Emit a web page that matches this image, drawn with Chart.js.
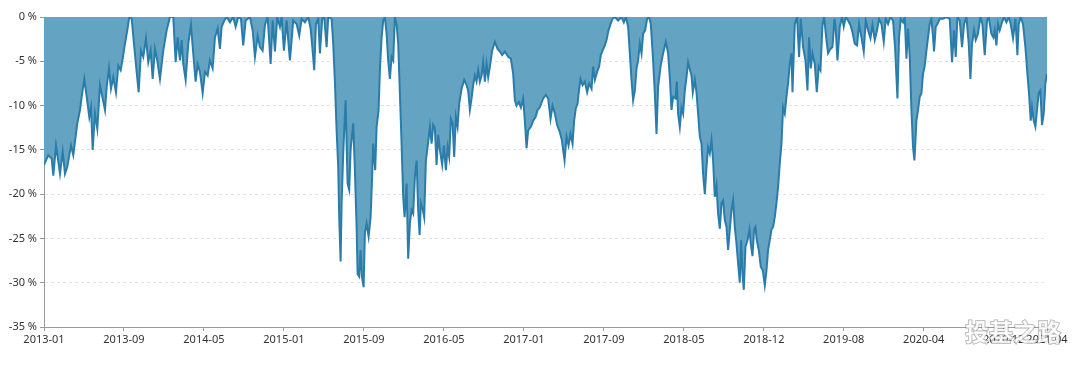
<!DOCTYPE html>
<html>
<head>
<meta charset="utf-8">
<script src="https://cdn.jsdelivr.net/npm/chart.js@4"></script>
<style>
  html, body { margin: 0; padding: 0; background: #fff; }
  #wrap { width: 1080px; height: 366px; }
</style>
</head>
<body>
<div id="wrap"><canvas id="ddChart" width="1080" height="366"></canvas></div>
<script>
// months since 2013-01 for each sample
const monthPos = [
  0, 0.43, 0.77, 0.93, 1.2, 1.6, 1.87, 2.1, 2.33, 2.7, 2.93, 3.33, 3.6, 3.77, 4.03, 4.27, 4.53, 4.7, 4.87, 5.1,
  5.33, 5.6, 5.87, 6.1, 6.27, 6.5, 6.7, 6.93, 7.2, 7.43, 7.67, 7.87, 8.1, 8.33, 8.53, 8.77, 9.0, 9.27, 9.47, 9.7,
  9.93, 10.2, 10.43, 10.67, 10.87, 11.1, 11.33, 11.6, 11.93, 12.27, 12.6, 12.93, 13.17, 13.37, 13.6, 13.77, 13.93, 14.17, 14.43, 14.7,
  14.93, 15.17, 15.37, 15.6, 15.87, 16.1, 16.37, 16.6, 16.87, 17.1, 17.37, 17.6, 17.77, 18.03, 18.27, 18.6, 18.93, 19.17, 19.43, 19.7,
  19.93, 20.17, 20.6, 20.87, 21.1, 21.37, 21.6, 21.87, 22.1, 22.37, 22.67, 22.87, 23.1, 23.33, 23.6, 23.77, 24.0, 24.27, 24.6, 24.93,
  25.27, 25.53, 25.77, 26.1, 26.43, 26.67, 26.87, 27.03, 27.2, 27.43, 27.6, 27.83, 28.03, 28.27, 28.43, 28.77, 28.93, 29.1, 29.27, 29.43,
  29.53, 29.67, 29.77, 29.93, 30.03, 30.17, 30.27, 30.37, 30.53, 30.67, 30.8, 30.93, 31.1, 31.27, 31.37, 31.53, 31.67, 31.8, 31.97, 32.1,
  32.27, 32.47, 32.67, 32.8, 32.93, 33.13, 33.27, 33.47, 33.6, 33.77, 33.93, 34.1, 34.27, 34.43, 34.6, 34.77, 34.93, 35.1, 35.27, 35.43,
  35.6, 35.77, 35.93, 36.07, 36.27, 36.43, 36.6, 36.77, 36.93, 37.1, 37.27, 37.43, 37.57, 37.7, 37.9, 38.03, 38.2, 38.37, 38.6, 38.77,
  38.93, 39.1, 39.27, 39.43, 39.6, 39.83, 40.0, 40.2, 40.37, 40.53, 40.7, 40.87, 41.03, 41.2, 41.37, 41.53, 41.77, 42.03, 42.27, 42.43,
  42.6, 42.77, 42.93, 43.1, 43.27, 43.43, 43.6, 43.77, 43.93, 44.1, 44.27, 44.43, 44.6, 44.83, 45.1, 45.37, 45.6, 45.83, 46.1, 46.43,
  46.7, 46.93, 47.1, 47.27, 47.5, 47.7, 47.93, 48.1, 48.27, 48.43, 48.7, 48.93, 49.17, 49.37, 49.6, 49.93, 50.2, 50.43, 50.67, 50.87,
  51.1, 51.33, 51.6, 51.8, 51.93, 52.07, 52.27, 52.47, 52.67, 52.87, 53.03, 53.2, 53.37, 53.53, 53.67, 53.87, 54.1, 54.33, 54.53, 54.77,
  54.93, 55.1, 55.33, 55.53, 55.7, 55.87, 56.1, 56.27, 56.47, 56.67, 56.87, 57.1, 57.43, 57.77, 58.0, 58.2, 58.43, 58.6, 58.77, 58.93,
  59.1, 59.27, 59.43, 59.6, 59.77, 59.93, 60.13, 60.33, 60.53, 60.7, 60.93, 61.1, 61.27, 61.43, 61.67, 61.93, 62.2, 62.43, 62.6, 62.77,
  62.93, 63.17, 63.3, 63.43, 63.6, 63.77, 63.93, 64.1, 64.27, 64.43, 64.63, 64.77, 64.9, 65.1, 65.27, 65.43, 65.6, 65.77, 65.93, 66.1,
  66.27, 66.43, 66.6, 66.77, 66.93, 67.1, 67.27, 67.43, 67.6, 67.77, 67.93, 68.1, 68.27, 68.43, 68.6, 68.77, 68.93, 69.1, 69.27, 69.43,
  69.6, 69.73, 69.87, 70.0, 70.17, 70.37, 70.57, 70.7, 70.87, 71.03, 71.17, 71.3, 71.5, 71.7, 71.9, 72.1, 72.27, 72.43, 72.6, 72.77,
  72.93, 73.1, 73.27, 73.43, 73.6, 73.77, 73.93, 74.1, 74.27, 74.43, 74.6, 74.77, 74.87, 75.1, 75.33, 75.53, 75.7, 75.93, 76.17, 76.37,
  76.53, 76.7, 76.87, 77.1, 77.3, 77.5, 77.67, 77.87, 78.03, 78.27, 78.43, 78.67, 78.87, 79.07, 79.2, 79.37, 79.6, 79.83, 80.0, 80.2,
  80.43, 80.67, 80.87, 81.1, 81.33, 81.53, 81.77, 82.0, 82.2, 82.43, 82.67, 82.87, 83.1, 83.33, 83.53, 83.77, 84.0, 84.2, 84.43, 84.67,
  84.93, 85.13, 85.37, 85.53, 85.7, 85.93, 86.1, 86.27, 86.43, 86.6, 86.77, 86.93, 87.07, 87.27, 87.43, 87.6, 87.77, 87.93, 88.1, 88.27,
  88.43, 88.6, 88.77, 88.93, 89.03, 89.2, 89.37, 89.6, 89.93, 90.27, 90.6, 90.83, 91.03, 91.2, 91.37, 91.6, 91.83, 92.03, 92.27, 92.5,
  92.67, 92.83, 93.03, 93.2, 93.43, 93.67, 93.87, 94.1, 94.33, 94.5, 94.77, 94.97, 95.1, 95.27, 95.43, 95.6, 95.83, 96.03, 96.27, 96.5,
  96.7, 96.93, 97.17, 97.37, 97.5, 97.7, 97.93, 98.17, 98.37, 98.53, 98.7, 98.83, 99.0, 99.17, 99.33, 99.5, 99.67, 99.83, 100.0, 100.17,
  100.33
];

// drawdown in percent
const drawdown = [
  -16.7, -15.6, -16.0, -17.9, -14.5, -17.7, -15.2, -17.7, -16.9, -14.5, -15.6, -12.0, -10.5, -9.0, -7.0, -9.0, -11.3, -10.2, -15.0, -10.9,
  -12.6, -7.7, -9.2, -10.5, -7.9, -5.8, -8.1, -6.8, -8.5, -5.5, -6.0, -4.7, -3.0, -1.5, 0, -0.2, -3.0, -6.2, -8.5, -3.8,
  -4.5, -2.4, -5.1, -3.8, -7.0, -3.6, -4.9, -7.0, -3.8, -1.5, 0, 0, -5.1, -2.3, -4.9, -2.6, -5.3, -7.1, -3.0, -0.9,
  -4.1, -7.3, -5.3, -6.2, -8.6, -6.2, -6.6, -4.9, -5.8, -2.3, -1.3, -3.6, -1.1, -0.4, 0, -0.6, 0, -1.1, 0, -0.2,
  -3.2, -0.4, 0, -1.5, -4.5, -2.1, -3.4, -3.8, -0.9, 0, -5.3, -0.4, -3.9, 0, -1.1, 0, -3.8, -0.4, -4.9, -0.4,
  -0.8, -2.1, -0.2, -0.6, 0, -1.3, -3.8, -6.0, -0.8, -0.2, -4.1, -0.2, 0, -3.4, 0, -0.2, -3.0, -7.3, -12.8, -16.9,
  -22.6, -27.6, -21.0, -15.4, -12.8, -9.4, -14.3, -18.8, -19.5, -15.0, -13.5, -12.0, -17.3, -23.7, -29.0, -29.3, -26.3, -29.3, -30.5, -24.4,
  -23.3, -24.8, -22.6, -18.8, -14.3, -17.3, -12.4, -10.5, -6.0, -2.3, -0.4, 0, -1.9, -4.9, -7.0, -4.5, -4.9, 0, -0.8, -3.0,
  -8.6, -14.3, -20.3, -22.6, -18.8, -27.3, -23.3, -21.8, -22.2, -18.0, -16.2, -21.8, -24.6, -21.0, -21.8, -22.6, -16.2, -14.7, -12.4, -14.3,
  -12.2, -12.6, -16.7, -13.3, -15.0, -16.7, -14.5, -17.3, -14.7, -15.8, -11.5, -12.0, -15.8, -11.3, -12.4, -9.8, -8.1, -7.1, -7.7, -8.3,
  -10.5, -9.2, -7.7, -6.6, -7.3, -6.0, -7.3, -6.6, -5.1, -7.3, -5.3, -6.8, -5.6, -3.8, -2.8, -3.6, -3.9, -4.3, -3.9, -4.5,
  -4.7, -6.4, -9.4, -10.0, -9.6, -10.2, -9.2, -11.7, -14.8, -12.8, -12.4, -11.7, -11.3, -10.5, -10.2, -9.2, -8.8, -9.2, -11.5, -10.0,
  -10.9, -12.2, -13.0, -13.9, -15.0, -16.2, -13.5, -14.5, -13.2, -14.3, -11.7, -10.3, -9.8, -8.1, -7.0, -7.7, -7.3, -8.5, -7.5, -8.1,
  -5.6, -7.1, -6.2, -5.6, -4.3, -3.8, -3.2, -2.6, -1.5, -0.8, -0.2, 0, -0.4, 0, -0.6, 0, -1.1, -4.1, -7.1, -9.4,
  -8.3, -5.8, -4.9, -3.0, -4.1, -1.9, -1.5, -0.2, 0, -0.8, -4.9, -8.6, -13.2, -7.9, -5.6, -4.1, -2.8, -4.1, -6.8, -10.5,
  -9.0, -9.2, -7.3, -10.9, -12.4, -10.2, -10.9, -8.3, -6.8, -5.1, -6.0, -6.6, -8.5, -7.1, -8.5, -10.9, -13.5, -14.3, -17.7, -20.0,
  -16.9, -14.7, -15.4, -13.9, -16.2, -20.3, -19.0, -22.2, -23.9, -21.0, -20.7, -22.9, -23.7, -26.3, -24.0, -21.8, -20.7, -23.7, -25.6, -27.8,
  -30.0, -25.2, -29.0, -30.8, -25.9, -25.2, -24.0, -25.6, -27.0, -24.0, -23.7, -25.2, -26.3, -28.2, -28.6, -30.3, -28.6, -26.3, -25.2, -24.0,
  -23.7, -22.6, -21.0, -19.2, -16.5, -14.3, -10.2, -10.9, -9.0, -7.5, -5.3, -4.1, -8.5, -0.8, 0, -4.5, -0.2, -3.4, -4.9, -8.3,
  -2.3, -5.8, -4.1, -5.3, -8.5, -5.6, -6.0, -0.9, 0, -2.6, -4.1, -3.6, -3.4, -0.2, -1.5, -4.9, -1.1, 0, -1.1, 0,
  -0.4, -0.9, -1.7, -3.0, -3.2, -0.8, -2.3, -3.9, -0.4, -1.5, -2.4, -0.9, -2.6, -1.5, -0.2, -0.8, -2.8, -0.2, -0.8, 0,
  -0.4, -3.4, -9.2, -2.3, -0.2, -0.6, 0, -4.7, -1.3, -4.5, -10.5, -14.7, -16.2, -11.7, -10.5, -9.0, -8.6, -6.4, -5.5, -3.8,
  -2.3, -0.8, -0.2, -2.3, -3.9, -1.1, -0.8, -0.2, -0.2, 0, -0.2, -5.1, -1.5, -4.5, 0, -0.4, -3.4, -0.8, 0, -3.0,
  -7.0, -3.0, -1.5, -2.6, -1.9, 0, -0.8, -4.3, -0.4, 0, -1.9, -2.3, -1.5, -3.2, -0.8, -1.5, -0.6, 0, -0.6, 0,
  -0.8, -2.4, -0.2, -4.3, -0.8, 0, -0.8, -3.4, -6.4, -8.6, -11.7, -10.2, -11.7, -12.4, -10.5, -8.6, -8.3, -12.2, -10.9, -7.5,
  -6.4
];

// x axis labels and where they sit (months since 2013-01)
const tickPos = [0, 8, 16, 24, 32, 40, 48, 56, 64, 72, 80, 88, 96, 100.33];
const tickLabels = ['2013-01', '2013-09', '2014-05', '2015-01', '2015-09', '2016-05', '2017-01',
  '2017-09', '2018-05', '2018-12', '2019-08', '2020-04', '2020-12', '2021-04'];

const watermark = {
  id: 'watermark',
  afterDraw(chart) {
    const ctx = chart.ctx;
    ctx.save();
    ctx.font = 'bold 24px "Noto Sans CJK SC"';
    ctx.textAlign = 'center';
    ctx.textBaseline = 'middle';
    ctx.lineWidth = 1.5;
    ctx.strokeStyle = 'rgba(110,110,110,0.55)';
    ctx.strokeText('投基之路', 1013, 332);
    ctx.fillStyle = 'rgba(255,255,255,0.85)';
    ctx.fillText('投基之路', 1013, 332);
    ctx.restore();
  }
};

const points = monthPos.map((m, i) => ({ x: m, y: drawdown[i] }));

new Chart(document.getElementById('ddChart'), {
  type: 'line',
  data: {
    datasets: [{
      data: points,
      borderColor: '#2a7dab',
      backgroundColor: '#65a3c3',
      borderWidth: 2,
      fill: 'origin',
      pointRadius: 0,
      tension: 0
    }]
  },
  options: {
    responsive: false,
    animation: false,
    layout: { padding: { top: 17, right: 33, left: 0, bottom: 0 } },
    plugins: {
      legend: { display: false },
      tooltip: { enabled: false }
    },
    scales: {
      x: {
        type: 'linear',
        min: 0,
        max: 100.33,
        afterBuildTicks: (scale) => {
          scale.ticks = tickPos.map(v => ({ value: v }));
        },
        afterFit: (scale) => { scale.height = 39; },
        ticks: {
          autoSkip: false,
          maxRotation: 0,
          padding: 2,
          color: '#333',
          font: { family: 'Noto Sans', size: 11 },
          callback: (value, index) => tickLabels[index]
        },
        grid: { drawOnChartArea: false, tickLength: 4, color: '#999' },
        border: { color: '#999' }
      },
      y: {
        min: -35,
        max: 0,
        afterFit: (scale) => { scale.width = 44; },
        ticks: {
          stepSize: 5,
          padding: 3,
          color: '#333',
          font: { family: 'Noto Sans', size: 11 },
          callback: (v) => v + ' %'
        },
        grid: { color: '#e2e2e2', tickColor: '#999', tickLength: 4 },
        border: { color: '#999', dash: [3, 3] }
      }
    }
  },
  plugins: [watermark]
});
</script>
</body>
</html>
